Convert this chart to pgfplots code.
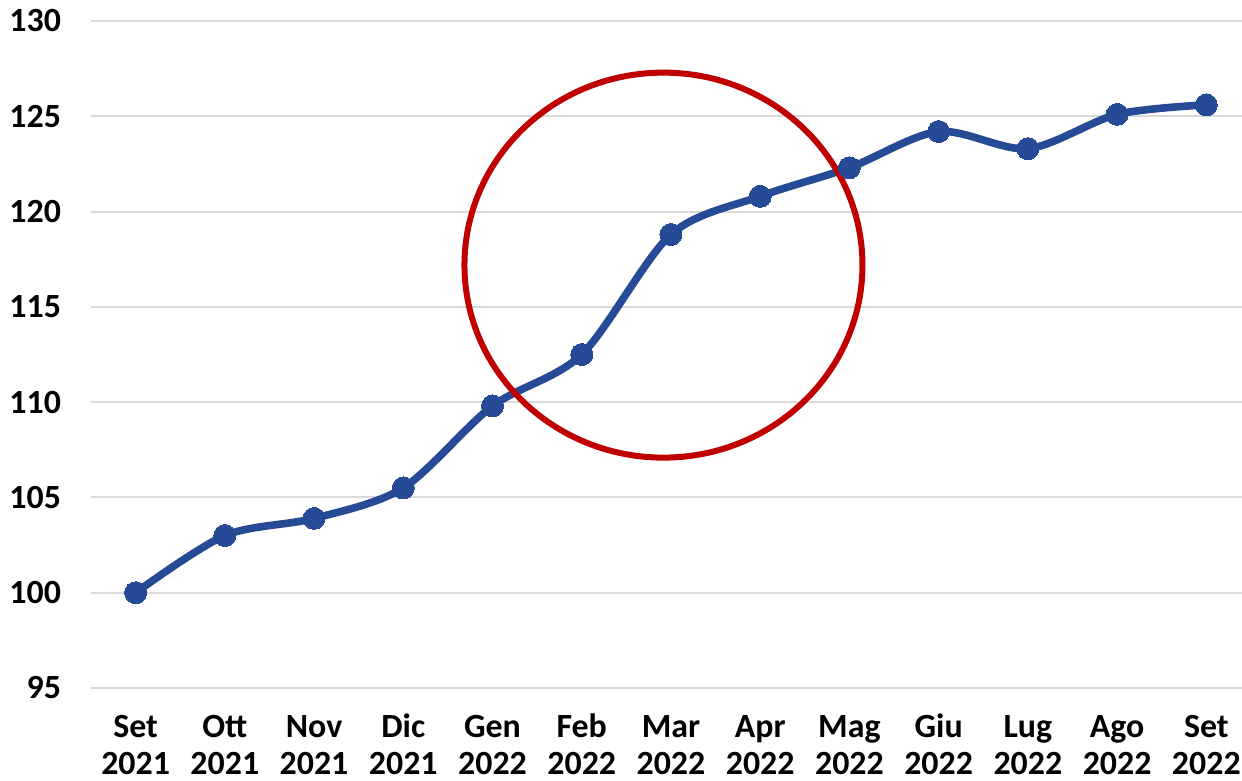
\documentclass[border=0pt]{standalone}
\usepackage{fontspec}
\setmainfont{Carlito}
\usepackage{pgfplots}
\pgfplotsset{compat=1.18}

\definecolor{lineblue}{RGB}{38,74,150}
\definecolor{circlered}{RGB}{192,0,0}
\definecolor{gridgray}{RGB}{217,217,217}

\begin{document}
\begin{tikzpicture}
  \begin{axis}[
    name=ax,
    scale only axis,
    width=575.5bp, height=333.5bp,
    xmin=-0.5, xmax=12.4,
    ymin=95, ymax=130,
    ytick={95,100,...,130},
    xtick={0,...,12},
    xticklabels={Set\\2021,Ott\\2021,Nov\\2021,Dic\\2021,Gen\\2022,Feb\\2022,Mar\\2022,Apr\\2022,Mag\\2022,Giu\\2022,Lug\\2022,Ago\\2022,Set\\2022},
    axis line style={draw=none},
    major tick length=0pt,
    ymajorgrids,
    grid style={gridgray, line width=1bp},
    /pgf/number format/assume math mode=true,
    yticklabel style={font=\fontsize{17}{20}\selectfont\bfseries, xshift=-11.5bp},
    xticklabel style={font=\fontsize{17}{18.5}\selectfont\bfseries, align=center,
      anchor=north, text height=12bp, text depth=0pt, inner sep=0pt, yshift=-31bp},
    clip=false,
  ]
    \addplot[lineblue, line width=3.8bp, smooth, tension=0.5,
      mark=*, mark size=5.5bp, mark options={fill=lineblue, draw=lineblue, line width=0pt}]
      coordinates {
      (0,100.0) (1,103.0) (2,103.9) (3,105.5) (4,109.8) (5,112.5) (6,118.8)
      (7,120.8) (8,122.3) (9,124.2) (10,123.3) (11,125.1) (12,125.6)
    };
    \draw[circlered, line width=3bp] (axis cs:5.916,117.19) ellipse [x radius=99.5bp, y radius=96.25bp];
  \end{axis}
  \pgfresetboundingbox
  \useasboundingbox ([shift={(-45.5bp,-46.5bp)}]ax.south west) rectangle ([shift={(0bp,10.5bp)}]ax.north east);
\end{tikzpicture}
\end{document}
